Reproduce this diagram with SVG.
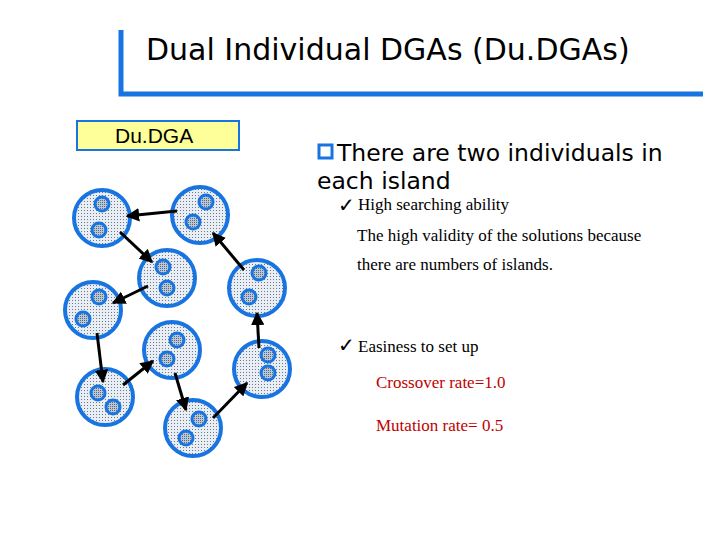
<svg xmlns="http://www.w3.org/2000/svg" width="720" height="540" viewBox="0 0 720 540">
<defs>
<pattern id="st" width="3" height="3" patternUnits="userSpaceOnUse"><rect width="3" height="3" fill="#e8eef4"/><rect width="1" height="1" fill="#6a7a8a"/></pattern>
<pattern id="st2" width="2" height="2" patternUnits="userSpaceOnUse"><rect width="2" height="2" fill="#b8c8d8"/><rect width="1" height="1" fill="#5a6a7a"/></pattern>
<marker id="ah" viewBox="0 0 10 10" refX="9" refY="5" markerWidth="4.5" markerHeight="4.5" orient="auto"><path d="M0,0L10,5L0,10z" fill="#000"/></marker>
<style>
.isl{fill:url(#st);stroke:#1874e0;stroke-width:4}
.ind{fill:url(#st2);stroke:#1874e0;stroke-width:3}
.c line{stroke:#000;stroke-width:3;marker-end:url(#ah)}
.b{font-family:"DejaVu Sans",sans-serif;font-size:23.5px;fill:#000}
.s{font-family:"Liberation Serif",serif;font-size:17px;fill:#000}
.r{font-family:"Liberation Serif",serif;font-size:17px;fill:#c00000}
</style>
</defs>
<rect width="720" height="540" fill="#fff"/>
<g id="title">
<path d="M121,30V94H703" fill="none" stroke="#1874e0" stroke-width="5"/>
<text x="146" y="60" font-family="DejaVu Sans,sans-serif" font-size="30" fill="#000">Dual Individual DGAs (Du.DGAs)</text>
</g>
<g id="label"><rect x="77" y="121" width="162" height="29" fill="#ffff99" stroke="#1874e0" stroke-width="2"/>
<text x="115" y="143" font-family="Liberation Sans,sans-serif" font-size="21" fill="#000">Du.DGA</text></g>
<g id="i1"><circle class="isl" cx="102" cy="218" r="28"/><circle class="ind" cx="102" cy="204" r="7"/><circle class="ind" cx="99" cy="230" r="7"/></g>
<g id="i2"><circle class="isl" cx="200" cy="215" r="28"/><circle class="ind" cx="206" cy="202" r="7"/><circle class="ind" cx="193" cy="222" r="7"/></g>
<g id="i3"><circle class="isl" cx="167" cy="278" r="28"/><circle class="ind" cx="163" cy="267" r="7"/><circle class="ind" cx="167" cy="288" r="7"/></g>
<g id="i4"><circle class="isl" cx="93" cy="310" r="28"/><circle class="ind" cx="99" cy="297" r="7"/><circle class="ind" cx="83" cy="319" r="7"/></g>
<g id="i5"><circle class="isl" cx="257" cy="288" r="28"/><circle class="ind" cx="259" cy="273" r="7"/><circle class="ind" cx="249" cy="297" r="7"/></g>
<g id="i6"><circle class="isl" cx="172" cy="350" r="28"/><circle class="ind" cx="177" cy="340" r="7"/><circle class="ind" cx="167" cy="359" r="7"/></g>
<g id="i7"><circle class="isl" cx="105" cy="397" r="28"/><circle class="ind" cx="98" cy="393" r="7"/><circle class="ind" cx="113" cy="407" r="7"/></g>
<g id="i8"><circle class="isl" cx="262" cy="369" r="28"/><circle class="ind" cx="268" cy="355" r="7"/><circle class="ind" cx="268" cy="373" r="7"/></g>
<g id="i9"><circle class="isl" cx="193" cy="428" r="28"/><circle class="ind" cx="199" cy="419" r="7"/><circle class="ind" cx="186" cy="438" r="7"/></g>
<g class="c" id="connectors">
<line x1="177" y1="211" x2="127" y2="216"/>
<line x1="120" y1="232" x2="152" y2="262"/>
<line x1="148" y1="286" x2="113" y2="303"/>
<line x1="97" y1="333" x2="103" y2="382"/>
<line x1="123" y1="385" x2="153" y2="361"/>
<line x1="175" y1="373" x2="186" y2="410"/>
<line x1="213" y1="418" x2="247" y2="383"/>
<line x1="259" y1="348" x2="257" y2="313"/>
<line x1="244" y1="270" x2="213" y2="233"/>
</g>
<g id="text">
<rect x="319" y="145" width="13" height="13" fill="none" stroke="#1874e0" stroke-width="3"/>
<text class="b" x="337" y="161">There are two individuals in</text>
<text class="b" x="317" y="189">each island</text>
<text x="338" y="212" font-family="DejaVu Sans,sans-serif" font-size="20" fill="#000">✓</text>
<text class="s" x="358" y="210">High searching ability</text>
<text class="s" x="357" y="241">The high validity of the solutions because</text>
<text class="s" x="357" y="270">there are numbers of islands.</text>
<text x="338" y="352" font-family="DejaVu Sans,sans-serif" font-size="20" fill="#000">✓</text>
<text class="s" x="358" y="352">Easiness to set up</text>
<text class="r" x="376" y="388">Crossover rate=1.0</text>
<text class="r" x="376" y="431">Mutation rate= 0.5</text>
</g>
</svg>
